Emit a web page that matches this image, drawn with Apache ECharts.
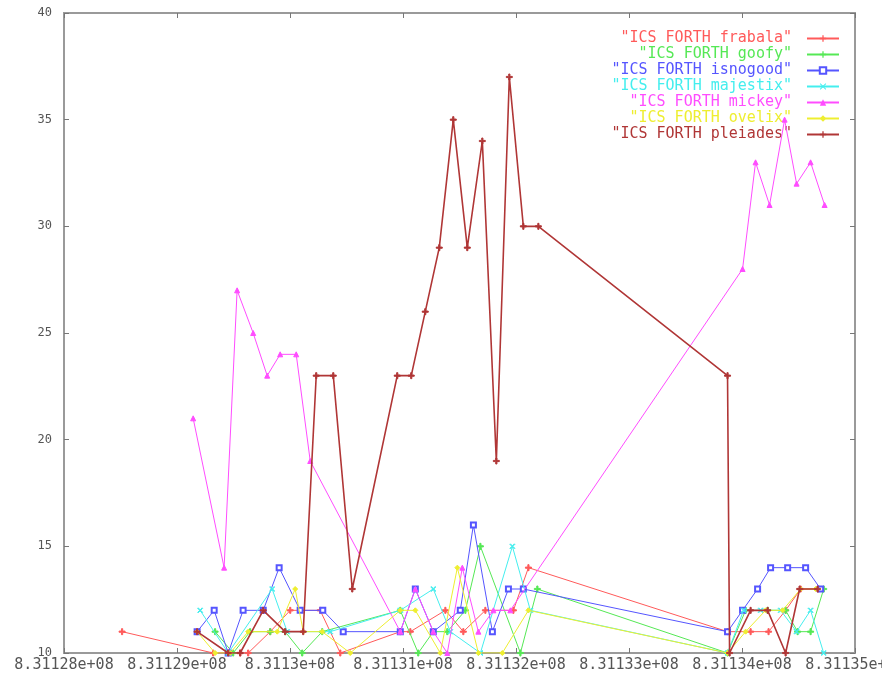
<!DOCTYPE html>
<html><head><meta charset="utf-8">
<script src="https://cdn.jsdelivr.net/npm/echarts@6/dist/echarts.min.js"></script>
<style>html,body{margin:0;padding:0;background:#fff}#c{width:882px;height:682px}</style>
</head><body><div id="c"></div>
<script>
// x values are unix timestamps (seconds), y values are counts
const xTicks = [831128000, 831129000, 831130000, 831131000, 831132000, 831133000, 831134000, 831135000];
const yTicks = [10, 15, 20, 25, 30, 35, 40];

const frabalaT = [831128514,831129320,831129559,831129630,831129825,831130002,831130267,831130445,831130976,831131065,831131375,831131534,831131729,831131977,831132110,831133872,831134076,831134235,831134386,831134519,831134678];
const frabalaV = [11,10,10,10,11,12,12,10,11,11,12,11,12,12,14,11,11,11,12,13,13];

const goofyT = [831129337,831129497,831129647,831129825,831129957,831130108,831130285,831130976,831131135,831131268,831131392,831131552,831131685,831132039,831132189,831133872,831134032,831134227,831134386,831134492,831134607,831134723];
const goofyV = [11,10,11,11,11,10,11,12,10,11,11,12,15,10,13,10,12,12,12,11,11,13];

const isnogoodT = [831129178,831129329,831129453,831129585,831129763,831129904,831130090,831130290,831130471,831130976,831131109,831131268,831131507,831131623,831131791,831131933,831132065,831133872,831134005,831134138,831134253,831134404,831134563,831134696];
const isnogoodV = [11,12,10,12,12,14,12,12,11,11,13,11,12,16,11,13,13,11,12,13,14,14,14,13];

const majestixT = [831129205,831129453,831129842,831129975,831130356,831130976,831131268,831131419,831131685,831131968,831132127,831133872,831134014,831134165,831134342,831134483,831134607,831134723];
const majestixV = [12,10,13,11,11,12,13,11,10,15,12,10,12,12,12,11,12,10];

const mickeyT = [831129143,831129417,831129532,831129674,831129798,831129913,831130055,831130179,831130976,831131109,831131268,831131392,831131525,831131667,831131800,831131950,831134005,831134120,831134244,831134377,831134483,831134607,831134731];
const mickeyV = [21,14,27,25,23,24,24,19,11,13,11,10,14,11,12,12,28,33,31,35,32,33,31];

const ovelixT = [831129178,831129337,831129470,831129630,831129887,831130046,831130117,831130285,831130533,831130976,831131109,831131330,831131481,831131667,831131879,831132110,831133872,831134032,831134209,831134359,831134519,831134652];
const ovelixV = [11,10,10,11,11,13,11,11,10,12,12,10,14,10,10,12,10,11,12,12,13,13];

const pleiadesT = [831129178,831129453,831129559,831129763,831129957,831130117,831130232,831130383,831130551,831130949,831131073,831131197,831131321,831131445,831131569,831131702,831131826,831131941,831132065,831132198,831133872,831133890,831134076,831134227,831134386,831134510,831134669];
const pleiadesV = [11,10,10,12,11,11,23,23,13,23,23,26,29,35,29,34,19,37,30,30,23,10,12,12,10,13,13];

const names = ['"ICS FORTH frabala"','"ICS FORTH goofy"','"ICS FORTH isnogood"','"ICS FORTH majestix"','"ICS FORTH mickey"','"ICS FORTH ovelix"','"ICS FORTH pleiades"'];
const colors = ['#ff5a5a','#55e855','#5555ff','#44eeee','#ff4cff','#eeee30','#b03636'];

const plus = 'path://M4,0L6,0L6,4L10,4L10,6L6,6L6,10L4,10L4,6L0,6L0,4L4,4Z';
const cross = 'path://M1,0L5,4L9,0L10,1L6,5L10,9L9,10L5,6L1,10L0,9L4,5L0,1Z';
const symbols = [plus, plus, 'emptyRect', cross, 'triangle', 'diamond', plus];
const sizes = [6,6,5,5,5,5,6];

const allT = [frabalaT, goofyT, isnogoodT, majestixT, mickeyT, ovelixT, pleiadesT];
const allV = [frabalaV, goofyV, isnogoodV, majestixV, mickeyV, ovelixV, pleiadesV];

function fmtG(v){
  let s = (v/1e8).toFixed(5).replace(/0+$/,'').replace(/\.$/,'');
  return s + 'e+08';
}

const series = names.map((n,i)=>({
  name:n, type:'line',
  data: allT[i].map((t,k)=>[t, allV[i][k]]),
  symbol: symbols[i], symbolSize: sizes[i], showSymbol:true,
  lineStyle:{color:colors[i], width: i===6 ? 1.6 : 1},
  itemStyle:{color:colors[i], borderColor:colors[i]},
  animation:false, z: 2+i
}));

const chart = echarts.init(document.getElementById('c'), null, {renderer:'canvas'});
chart.setOption({
  animation:false,
  backgroundColor:'#fff',
  grid:{left:64, right:27, top:13, bottom:29, containLabel:false, outerBoundsMode:'none',
        show:true, borderColor:'#9a9a9a', borderWidth:2, backgroundColor:'transparent'},
  legend:{
    orient:'vertical', right:37, top:26, align:'right', itemGap:1, itemWidth:32, itemHeight:8,
    textStyle:{fontFamily:'DejaVu Sans Mono', fontSize:15, lineHeight:14, padding:[0,10,0,0]},
    data: names.map((n,i)=>({name:n, textStyle:{color:colors[i]}}))
  },
  xAxis:[{
    type:'value', min:xTicks[0], max:xTicks[xTicks.length-1], interval:1000,
    axisLine:{show:false}, splitLine:{show:false},
    axisTick:{show:true, inside:true, length:5, lineStyle:{color:'#777'}},
    axisLabel:{formatter:fmtG, color:'#555', fontFamily:'DejaVu Sans Mono', fontSize:15, margin:5}
  },{
    type:'value', position:'top', min:xTicks[0], max:xTicks[xTicks.length-1], interval:1000,
    axisLine:{show:false}, splitLine:{show:false}, axisLabel:{show:false},
    axisTick:{show:true, inside:true, length:5, lineStyle:{color:'#777'}}
  }],
  yAxis:[{
    type:'value', min:yTicks[0], max:yTicks[yTicks.length-1], interval:5,
    axisLine:{show:false}, splitLine:{show:false},
    axisTick:{show:true, inside:true, length:5, lineStyle:{color:'#777'}},
    axisLabel:{color:'#555', fontFamily:'DejaVu Sans Mono', fontSize:12, margin:12}
  },{
    type:'value', position:'right', min:yTicks[0], max:yTicks[yTicks.length-1], interval:5,
    axisLine:{show:false}, splitLine:{show:false}, axisLabel:{show:false},
    axisTick:{show:true, inside:true, length:5, lineStyle:{color:'#777'}}
  }],
  series: series
});
</script>
</body></html>
